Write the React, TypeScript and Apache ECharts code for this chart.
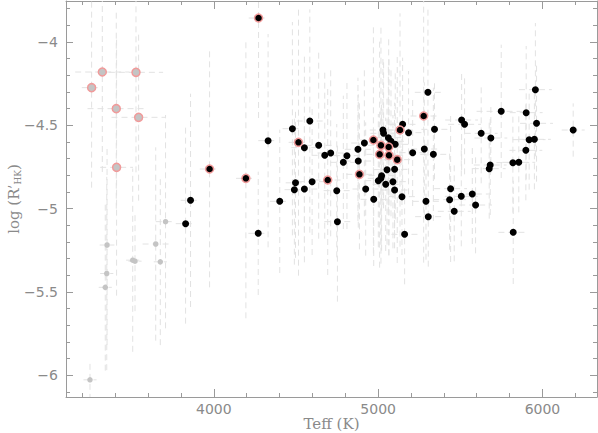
import React, { useEffect, useRef } from "react";
import * as echarts from "echarts";

// Light-grey (cool) stars with red ring
const grayRingTeff = [3321, 3526, 3256, 3406, 3542, 3408];
const grayRingLogR = [-4.18, -4.182, -4.274, -4.4, -4.452, -4.752];
const grayRingErrT = [165, 165, 60, 175, 165, 100];
const grayRingErrL = [0.6, 0.6, 0.6, 0.6, 0.5, 0.77];

// Light-grey (cool) stars
const grayTeff = [3706, 3350, 3646, 3506, 3520, 3674, 3348, 3339, 3246];
const grayLogR = [-5.078, -5.218, -5.212, -5.309, -5.315, -5.319, -5.389, -5.472, -6.027];
const grayErrT = [60, 45, 80, 40, 40, 40, 40, 40, 40];
const grayErrL = [0.64, 0.6, 0.58, 0.55, 0.3, 0.5, 0.58, 0.5, 0.12];

// Black stars with red ring
const ringTeff = [4272, 3974, 4195, 4515, 4693, 4886, 4971, 5017, 5064, 5009, 5066, 5116, 5133, 5277];
const ringLogR = [-3.856, -4.762, -4.818, -4.602, -4.828, -4.794, -4.588, -4.62, -4.63, -4.674, -4.68, -4.706, -4.528, -4.444];
const ringErrT = [60, 60, 60, 60, 80, 80, 80, 80, 80, 80, 80, 80, 80, 80];
const ringErrL = [0.6, 0.71, 0.84, 0.8, 0.57, 0.45, 0.68, 0.71, 0.65, 0.68, 0.6, 0.62, 0.7, 0.88];

// Black stars
const blackTeff = [
  3858, 3828, 4270, 4330, 4478, 4497, 4490, 4401, 4584, 4551, 4638, 4675, 4711, 4810, 4877, 4788,
  4879, 4598, 4551, 4748, 4924, 4973, 5001, 5021, 5017, 5046, 5054, 5100, 5090, 5100, 5145, 5291,
  5305, 5441, 5435, 5506, 5573, 5593, 5463, 4752, 5161, 5822, 5303, 5957, 5749, 5901, 5964, 6187,
  5508, 5526, 5627, 5686, 5919, 5951, 5899, 5820, 5856, 5682, 5676, 5343, 5149, 5185, 5029, 5033,
  5062, 5078, 5104, 4916, 5210, 5281, 5336,
];
const blackLogR = [
  -4.95, -5.09, -5.148, -4.592, -4.52, -4.845, -4.886, -4.956, -4.474, -4.634, -4.62, -4.68, -4.666, -4.682, -4.644, -4.722,
  -4.714, -4.838, -4.882, -4.892, -4.882, -4.944, -4.832, -4.802, -4.818, -4.854, -4.766, -4.764, -4.838, -4.888, -4.928, -4.956,
  -5.048, -4.88, -4.946, -4.926, -4.912, -4.978, -5.016, -5.078, -5.154, -5.142, -4.302, -4.286, -4.416, -4.424, -4.488, -4.528,
  -4.468, -4.494, -4.548, -4.576, -4.586, -4.584, -4.65, -4.724, -4.722, -4.738, -4.76, -4.524, -4.494, -4.544, -4.528, -4.548,
  -4.574, -4.596, -4.614, -4.606, -4.664, -4.642, -4.674,
];
const blackErrT = [
  60, 60, 60, 60, 60, 60, 60, 60, 80, 80, 80, 80, 80, 80, 80, 80,
  80, 80, 80, 80, 80, 80, 80, 80, 80, 80, 80, 80, 80, 80, 80, 80,
  80, 100, 100, 100, 100, 100, 100, 80, 80, 90, 80, 100, 150, 100, 100, 70,
  100, 100, 100, 100, 100, 100, 100, 100, 100, 100, 100, 80, 80, 80, 80, 80,
  80, 80, 80, 80, 80, 80, 80,
];
const blackErrL = [
  0.64, 0.6, 0.37, 0.64, 0.64, 0.45, 0.45, 0.43, 0.67, 0.57, 0.56, 0.5, 0.5, 0.44, 0.43, 0.4,
  0.4, 0.44, 0.44, 0.4, 0.4, 0.4, 0.4, 0.45, 0.4, 0.4, 0.45, 0.4, 0.4, 0.35, 0.35, 0.35,
  0.3, 0.44, 0.3, 0.3, 0.3, 0.29, 0.3, 0.48, 0.3, 0.31, 0.5, 0.4, 0.4, 0.4, 0.35, 0.16,
  0.3, 0.3, 0.3, 0.21, 0.3, 0.3, 0.3, 0.3, 0.3, 0.3, 0.3, 0.3, 0.4, 0.37, 0.45, 0.45,
  0.45, 0.45, 0.45, 0.44, 0.32, 0.4, 0.4,
];

// Axis ticks
const xMajorTicks = [4000, 5000, 6000];
const xMinorTicks = [3200, 3400, 3600, 3800, 4000, 4200, 4400, 4600, 4800, 5000, 5200, 5400, 5600, 5800, 6000, 6200];
const yMajorTicks = [-6, -5.5, -5, -4.5, -4];
const yMinorTicks = [
  -6.1, -6.0, -5.9, -5.8, -5.7, -5.6, -5.5, -5.4, -5.3, -5.2, -5.1, -5.0,
  -4.9, -4.8, -4.7, -4.6, -4.5, -4.4, -4.3, -4.2, -4.1, -4.0, -3.9, -3.8,
];

const X_MIN = 3100;
const X_MAX = 6332;
const Y_MIN = -6.13;
const Y_MAX = -3.754;

function zip(a: number[], b: number[]) {
  return a.map((v, i) => [v, b[i]]);
}
function zip4(a: number[], b: number[], c: number[], d: number[]) {
  return a.map((v, i) => [v, b[i], c[i], d[i]]);
}

const AXIS_COLOR = "#9a9a9a";
const LABEL_COLOR = "#8a8a8a";

export default function App() {
  const ref = useRef<HTMLDivElement>(null);

  useEffect(() => {
    if (!ref.current) return;
    const chart = echarts.init(ref.current, undefined, { renderer: "svg" });

    const errData = [
      ...zip4(grayTeff, grayLogR, grayErrT, grayErrL),
      ...zip4(grayRingTeff, grayRingLogR, grayRingErrT, grayRingErrL),
      ...zip4(blackTeff, blackLogR, blackErrT, blackErrL),
      ...zip4(ringTeff, ringLogR, ringErrT, ringErrL),
    ];

    const minus = (v: number) => String(v).replace("-", "\u2212");

    const xBase = {
      type: "value",
      min: X_MIN,
      max: X_MAX,
      splitLine: { show: false },
      nameMoveOverlap: false,
      axisLine: { show: true, onZero: false, lineStyle: { color: AXIS_COLOR, width: 1 } },
    };
    const yBase = {
      type: "value",
      min: Y_MIN,
      max: Y_MAX,
      splitLine: { show: false },
      nameMoveOverlap: false,
      axisLine: { show: true, onZero: false, lineStyle: { color: AXIS_COLOR, width: 1 } },
    };

    const option: any = {
      animation: false,
      backgroundColor: "#ffffff",
      grid: { left: 66, right: 1, top: 1, bottom: 36, containLabel: false, outerBoundsMode: "none" },
      xAxis: [
        {
          ...xBase,
          position: "bottom",
          name: "Teff (K)",
          nameLocation: "middle",
          nameGap: 19,
          nameTextStyle: { fontFamily: "DejaVu Serif", fontSize: 15, color: LABEL_COLOR },
          axisTick: { show: true, inside: true, length: 8, customValues: xMajorTicks, lineStyle: { color: AXIS_COLOR } },
          axisLabel: {
            show: true,
            customValues: xMajorTicks,
            color: LABEL_COLOR,
            fontFamily: "DejaVu Sans",
            fontSize: 14,
            margin: 5,
            formatter: (v: number) => minus(v),
          },
        },
        {
          ...xBase,
          position: "bottom",
          axisLine: { show: false },
          axisTick: { show: true, inside: true, length: 4, customValues: xMinorTicks, lineStyle: { color: AXIS_COLOR } },
          axisLabel: { show: false },
        },
        {
          ...xBase,
          position: "top",
          axisTick: { show: true, inside: true, length: 8, customValues: xMajorTicks, lineStyle: { color: AXIS_COLOR } },
          axisLabel: { show: false },
        },
        {
          ...xBase,
          position: "top",
          axisLine: { show: false },
          axisTick: { show: true, inside: true, length: 4, customValues: xMinorTicks, lineStyle: { color: AXIS_COLOR } },
          axisLabel: { show: false },
        },
      ],
      yAxis: [
        {
          ...yBase,
          position: "left",
          name: "log (R\u2019{sub|HK})",
          nameLocation: "middle",
          nameGap: 44,
          nameTextStyle: {
            fontFamily: "DejaVu Serif",
            fontSize: 15,
            color: LABEL_COLOR,
            rich: {
              sub: { fontFamily: "DejaVu Serif", fontSize: 9, color: LABEL_COLOR, padding: [8, 0, 0, 0] },
            },
          },
          axisTick: { show: true, inside: true, length: 7, customValues: yMajorTicks, lineStyle: { color: AXIS_COLOR } },
          axisLabel: {
            show: true,
            customValues: yMajorTicks,
            color: LABEL_COLOR,
            fontFamily: "DejaVu Sans",
            fontSize: 14,
            margin: 8,
            formatter: (v: number) => minus(v),
          },
        },
        {
          ...yBase,
          position: "left",
          axisLine: { show: false },
          axisTick: { show: true, inside: true, length: 4, customValues: yMinorTicks, lineStyle: { color: AXIS_COLOR } },
          axisLabel: { show: false },
        },
        {
          ...yBase,
          position: "right",
          axisTick: { show: true, inside: true, length: 7, customValues: yMajorTicks, lineStyle: { color: AXIS_COLOR } },
          axisLabel: { show: false },
        },
        {
          ...yBase,
          position: "right",
          axisLine: { show: false },
          axisTick: { show: true, inside: true, length: 4, customValues: yMinorTicks, lineStyle: { color: AXIS_COLOR } },
          axisLabel: { show: false },
        },
      ],
      series: [
        {
          type: "custom",
          name: "errors",
          xAxisIndex: 0,
          yAxisIndex: 0,
          clip: true,
          silent: true,
          encode: { x: 0, y: 1 },
          data: errData,
          renderItem: (params: any, api: any) => {
            const x = api.value(0);
            const y = api.value(1);
            const ex = api.value(2);
            const ey = api.value(3);
            const a = api.coord([x, y - ey]);
            const b = api.coord([x, y + ey]);
            const c = api.coord([x - ex, y]);
            const d = api.coord([x + ex, y]);
            const style = { stroke: "#e2e2e2", lineWidth: 1, lineDash: [6, 4], fill: null };
            return {
              type: "group",
              children: [
                { type: "line", shape: { x1: a[0], y1: a[1], x2: b[0], y2: b[1] }, style },
                { type: "line", shape: { x1: c[0], y1: c[1], x2: d[0], y2: d[1] }, style },
              ],
            };
          },
        },
        {
          type: "scatter",
          name: "gray",
          xAxisIndex: 0,
          yAxisIndex: 0,
          symbol: "circle",
          symbolSize: 5.5,
          itemStyle: { color: "#c4c4c4", opacity: 1 },
          data: zip(grayTeff, grayLogR),
        },
        {
          type: "scatter",
          name: "grayRing",
          xAxisIndex: 0,
          yAxisIndex: 0,
          symbol: "circle",
          symbolSize: 8,
          itemStyle: { color: "#c4c4c4", borderColor: "#f19a9a", borderWidth: 1.5, opacity: 1 },
          data: zip(grayRingTeff, grayRingLogR),
        },
        {
          type: "scatter",
          name: "black",
          xAxisIndex: 0,
          yAxisIndex: 0,
          symbol: "circle",
          symbolSize: 7,
          itemStyle: { color: "#000000", opacity: 1 },
          data: zip(blackTeff, blackLogR),
        },
        {
          type: "scatter",
          name: "ring",
          xAxisIndex: 0,
          yAxisIndex: 0,
          symbol: "circle",
          symbolSize: 8,
          itemStyle: { color: "#000000", borderColor: "#f19a9a", borderWidth: 1.5, opacity: 1 },
          data: zip(ringTeff, ringLogR),
        },
      ],
    };

    chart.setOption(option);
    return () => chart.dispose();
  }, []);

  return (
    <div
      ref={ref}
      style={{ position: "absolute", left: 0, top: 0, width: 598, height: 433, background: "#fff" }}
    />
  );
}
